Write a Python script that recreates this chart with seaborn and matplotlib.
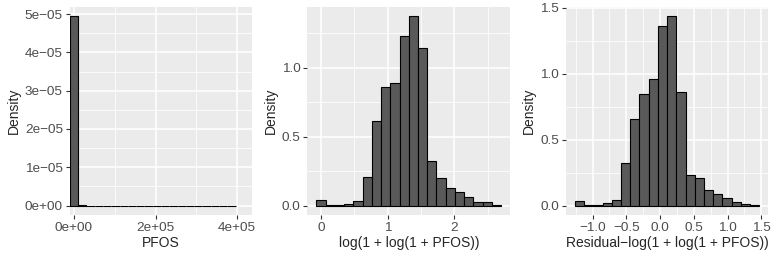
import numpy as np
import pandas as pd
import matplotlib
matplotlib.use("Agg")
import matplotlib.pyplot as plt
from matplotlib.ticker import MultipleLocator, FuncFormatter
import seaborn as sns

# bin edges (20 bins each) and density heights
pfos_edges = np.linspace(-10150, 395850, 21)
pfos_density = [4.948e-05, 2.6e-07, 6e-09, 5e-09, 4e-09, 3e-09, 2e-09, 2e-09,
                1e-09, 1e-09, 1e-09, 1e-09, 1e-09, 1e-09, 1e-09, 1e-09, 1e-09,
                1e-09, 1e-09, 1e-09]

loglog_edges = np.linspace(-0.069, 2.70, 21)
loglog_density = [0.041, 0.005, 0.005, 0.012, 0.034, 0.205, 0.614, 0.86, 0.89,
                  1.227, 1.373, 1.145, 0.325, 0.198, 0.125, 0.096, 0.065, 0.029,
                  0.022, 0.007]

resid_edges = np.linspace(-1.26, 1.47, 21)
resid_density = [0.038, 0.005, 0.005, 0.018, 0.043, 0.325, 0.655, 0.844, 0.962,
                 1.358, 1.436, 0.859, 0.234, 0.212, 0.118, 0.088, 0.058, 0.030,
                 0.013, 0.005]

xlabels = ["PFOS", "log(1 + log(1 + PFOS))",
           "Residual\u2212log(1 + log(1 + PFOS))"]

sns.set_theme(style="darkgrid", rc={
    "axes.facecolor": "#EBEBEB",
    "grid.color": "white",
    "axes.edgecolor": "#EBEBEB",
    "axes.linewidth": 0,
    "xtick.bottom": True,
    "ytick.left": True,
    "xtick.color": "#333333",
    "ytick.color": "#333333",
    "xtick.labelcolor": "#4D4D4D",
    "ytick.labelcolor": "#4D4D4D",
    "xtick.major.size": 2.7,
    "ytick.major.size": 2.7,
    "xtick.major.width": 0.8,
    "ytick.major.width": 0.8,
    "xtick.major.pad": 2,
    "ytick.major.pad": 2,
    "xtick.labelsize": 9.7,
    "ytick.labelsize": 9.7,
    "axes.labelsize": 10,
})
plt.rcParams["font.family"] = ["Liberation Sans", "DejaVu Sans"]
plt.rcParams["axes.unicode_minus"] = True

W, H = 775, 259
fig = plt.figure(figsize=(W / 100, H / 100), dpi=100)
bottom = (H - 215) / H
height = (215 - 6.7) / H
ax1 = fig.add_axes([69.5 / W, bottom, 182.2 / W, height])
ax2 = fig.add_axes([307.2 / W, bottom, 203.2 / W, height])
ax3 = fig.add_axes([565.7 / W, bottom, 202.6 / W, height])


def minus(s):
    return s.replace("-", "\u2212")


def draw(ax, edges, dens, xlab):
    edges = [float(e) for e in edges]
    centers = [(a + b) / 2 for a, b in zip(edges[:-1], edges[1:])]
    df = pd.DataFrame({"x": centers, "w": dens})
    sns.histplot(data=df, x="x", weights="w", bins=edges, stat="count",
                 color="#595959", edgecolor="black", linewidth=0.8,
                 alpha=1, ax=ax)
    ax.set_xlabel(xlab, labelpad=2)
    ax.set_ylabel("Density", labelpad=3)
    ax.grid(which="major", color="white", linewidth=1.1)
    ax.grid(which="minor", color="white", linewidth=0.55)
    ax.tick_params(which="minor", length=0)
    ax.set_axisbelow(True)


draw(ax1, pfos_edges, pfos_density, xlabels[0])
ax1.set_xlim(-11000, 435300)
ax1.set_ylim(-2.47e-06, 5.195e-05)
ax1.xaxis.set_major_locator(MultipleLocator(2e5))
ax1.xaxis.set_minor_locator(MultipleLocator(1e5))
ax1.yaxis.set_major_locator(MultipleLocator(1e-5))
ax1.yaxis.set_minor_locator(MultipleLocator(5e-6))
sci = FuncFormatter(lambda v, p: minus(f"{v:.0e}"))
ax1.xaxis.set_major_formatter(sci)
ax1.yaxis.set_major_formatter(sci)

draw(ax2, loglog_edges, loglog_density, xlabels[1])
ax2.set_xlim(-0.208, 2.84)
ax2.set_ylim(-0.0687, 1.442)
ax2.xaxis.set_major_locator(MultipleLocator(1))
ax2.xaxis.set_minor_locator(MultipleLocator(0.5))
ax2.yaxis.set_major_locator(MultipleLocator(0.5))
ax2.yaxis.set_minor_locator(MultipleLocator(0.25))
ax2.xaxis.set_major_formatter(FuncFormatter(lambda v, p: minus(f"{v:.0f}")))
ax2.yaxis.set_major_formatter(FuncFormatter(lambda v, p: minus(f"{v:.1f}")))

draw(ax3, resid_edges, resid_density, xlabels[2])
ax3.set_xlim(-1.397, 1.604)
ax3.set_ylim(-0.0718, 1.508)
ax3.xaxis.set_major_locator(MultipleLocator(0.5))
ax3.xaxis.set_minor_locator(MultipleLocator(0.25))
ax3.yaxis.set_major_locator(MultipleLocator(0.5))
ax3.yaxis.set_minor_locator(MultipleLocator(0.25))
fmt1 = FuncFormatter(lambda v, p: minus(f"{v:.1f}") if abs(v) > 1e-9 else "0.0")
ax3.xaxis.set_major_formatter(fmt1)
ax3.yaxis.set_major_formatter(fmt1)

fig.savefig("out.png", dpi=100)
